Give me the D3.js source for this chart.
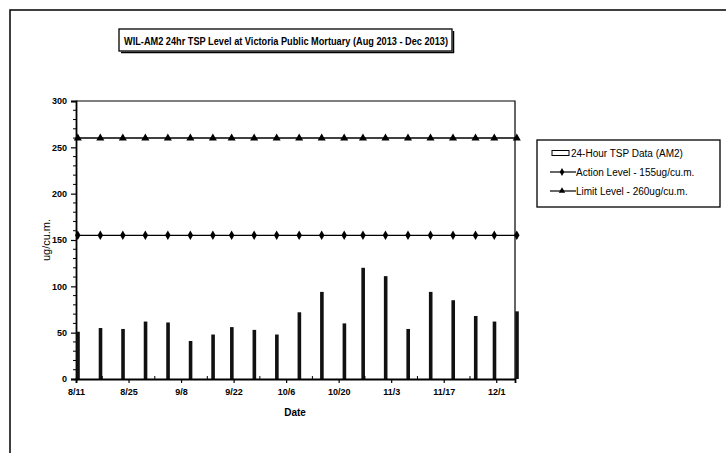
<!DOCTYPE html>
<html lang="en">
<head>
<meta charset="UTF-8">
<title>WIL-AM2 24hr TSP Level</title>
<script src="https://d3js.org/d3.v7.min.js"></script>
<style>
  body { margin: 0; background: #fff; }
  svg { display: block; font-family: "Liberation Sans", Arial, sans-serif; }
</style>
</head>
<body>
<div id="chart"></div>
<script>
// sample dates (2013) and 24-hour TSP readings (ug/cu.m.)
const sampleDates = ["8/11", "8/17", "8/23", "8/29", "9/4", "9/10", "9/16", "9/21", "9/27", "10/3",
  "10/9", "10/15", "10/21", "10/26", "11/1", "11/7", "11/13", "11/19", "11/25", "11/30", "12/6"];
const tspValues = [51, 55, 54, 62, 61, 41, 48, 56, 53, 48, 72, 94, 60, 120, 111, 54, 94, 85, 68, 62, 73];
const actionLevel = 155;
const limitLevel = 260;
const xTickLabels = ["8/11", "8/25", "9/8", "9/22", "10/6", "10/20", "11/3", "11/17", "12/1"];
const yTicks = [0, 50, 100, 150, 200, 250, 300];

const parse = s => { const [m, d] = s.split("/").map(Number); return new Date(2013, m - 1, d); };
const data = sampleDates.map((d, i) => ({ date: parse(d), value: tspValues[i] }));

const width = 726, height = 453;
const plot = { left: 76, right: 515, top: 101, bottom: 379 };

const svg = d3.select("#chart").append("svg")
  .attr("width", width).attr("height", height);

// outer frame (runs off the page on right/bottom)
svg.append("rect")
  .attr("x", 10).attr("y", 10).attr("width", 740).attr("height", 470)
  .attr("fill", "none").attr("stroke", "#000").attr("stroke-width", 1.5);

// title box
svg.append("rect")
  .attr("x", 119).attr("y", 29).attr("width", 333).attr("height", 22)
  .attr("fill", "#fff").attr("stroke", "#000").attr("stroke-width", 1.3);
svg.append("line")
  .attr("x1", 121).attr("x2", 454).attr("y1", 52.5).attr("y2", 52.5)
  .attr("stroke", "#000").attr("stroke-width", 1.5);
svg.append("line")
  .attr("x1", 453.5).attr("x2", 453.5).attr("y1", 31).attr("y2", 53)
  .attr("stroke", "#000").attr("stroke-width", 1.5);
svg.append("text")
  .attr("x", 286).attr("y", 44.5)
  .attr("text-anchor", "middle")
  .style("font-size", "11.5px").style("font-weight", "bold")
  .attr("textLength", 324).attr("lengthAdjust", "spacingAndGlyphs")
  .text("WIL-AM2 24hr TSP Level at Victoria Public Mortuary (Aug 2013 - Dec 2013)");

const x = d3.scaleTime()
  .domain([parse("8/11"), parse("12/6")])
  .range([plot.left, plot.right]);
const y = d3.scaleLinear()
  .domain([0, 300])
  .range([plot.bottom, plot.top]);

// plot frame top/right
svg.append("path")
  .attr("d", `M${plot.left},${plot.top}H${plot.right}V${plot.bottom}`)
  .attr("fill", "none").attr("stroke", "#000").attr("stroke-width", 1.2);

// y axis
const yAxis = svg.append("g")
  .attr("transform", `translate(${plot.left},0)`)
  .call(d3.axisLeft(y).tickValues(yTicks).tickSize(5).tickPadding(4));
yAxis.append("g").selectAll("line")
  .data(d3.range(0, 301, 10).filter(v => v % 50 !== 0))
  .join("line")
  .attr("x1", -3).attr("x2", 0)
  .attr("y1", d => y(d)).attr("y2", d => y(d))
  .attr("stroke", "#000");

// bars (drawn over the y axis so the first one stays visible)
svg.append("g").selectAll("rect")
  .data(data)
  .join("rect")
  .attr("x", d => x(d.date) + 0.2)
  .attr("width", 3.6)
  .attr("y", d => y(d.value))
  .attr("height", d => y(0) - y(d.value))
  .attr("fill", "#111");

// level lines
const levels = [
  { value: actionLevel, shape: d3.symbolDiamond },
  { value: limitLevel, shape: d3.symbolTriangle }
];
levels.forEach(l => {
  svg.append("line")
    .attr("x1", x(data[0].date)).attr("x2", x(data[data.length - 1].date))
    .attr("y1", y(l.value)).attr("y2", y(l.value))
    .attr("stroke", "#000").attr("stroke-width", 1.4);
  svg.append("g").selectAll("path")
    .data(data)
    .join("path")
    .attr("transform", d => `translate(${x(d.date) + 1.8},${y(l.value)})`)
    .attr("d", d3.symbol().type(l.shape).size(l.shape === d3.symbolDiamond ? 26 : 28))
    .attr("fill", "#000");
});

// x axis
const xTicks = xTickLabels.map(parse);
const xAxis = svg.append("g")
  .attr("transform", `translate(0,${plot.bottom})`)
  .call(d3.axisBottom(x).tickValues(xTicks).tickSize(4).tickPadding(6)
    .tickFormat(d3.timeFormat("%-m/%-d")));
xAxis.append("g").selectAll("line")
  .data(xTicks.map(d => d3.timeDay.offset(d, 7)).filter(d => d <= x.domain()[1]))
  .join("line")
  .attr("x1", d => x(d)).attr("x2", d => x(d))
  .attr("y1", 0).attr("y2", -3)
  .attr("stroke", "#000");

[yAxis, xAxis].forEach(a => {
  a.select(".domain").attr("stroke-width", 1.8);
  a.selectAll(".tick line").attr("stroke-width", 1.2);
  a.selectAll("text")
    .style("font-size", "9px").style("font-weight", "bold")
    .attr("fill", "#000");
});

// axis titles
svg.append("text")
  .attr("x", 295).attr("y", 416)
  .attr("text-anchor", "middle")
  .style("font-size", "10px").style("font-weight", "bold")
  .text("Date");
svg.append("text")
  .attr("transform", "translate(50,240) rotate(-90)")
  .attr("text-anchor", "middle")
  .style("font-size", "11px")
  .text("ug/cu.m.");

// legend
const lg = svg.append("g");
lg.append("rect")
  .attr("x", 537).attr("y", 140).attr("width", 183).attr("height", 67)
  .attr("fill", "#fff").attr("stroke", "#000").attr("stroke-width", 1.3);
const legendItems = [
  { label: "24-Hour TSP Data (AM2)", kind: "bar" },
  { label: "Action Level - 155ug/cu.m.", kind: "line", shape: d3.symbolDiamond },
  { label: "Limit Level - 260ug/cu.m.", kind: "line", shape: d3.symbolTriangle }
];
legendItems.forEach((it, i) => {
  const cy = 153 + i * 19;
  if (it.kind === "bar") {
    lg.append("rect")
      .attr("x", 552).attr("y", cy - 2.5).attr("width", 17).attr("height", 5)
      .attr("fill", "#fff").attr("stroke", "#000").attr("stroke-width", 1);
  } else {
    lg.append("line")
      .attr("x1", 550).attr("x2", 576).attr("y1", cy).attr("y2", cy)
      .attr("stroke", "#000").attr("stroke-width", 1.2);
    lg.append("path")
      .attr("transform", `translate(562,${cy})`)
      .attr("d", d3.symbol().type(it.shape).size(18))
      .attr("fill", "#000");
  }
  lg.append("text")
    .attr("x", it.kind === "bar" ? 571 : 576).attr("y", cy + 3.5)
    .style("font-size", "10px")
    .text(it.label);
});
</script>
</body>
</html>
